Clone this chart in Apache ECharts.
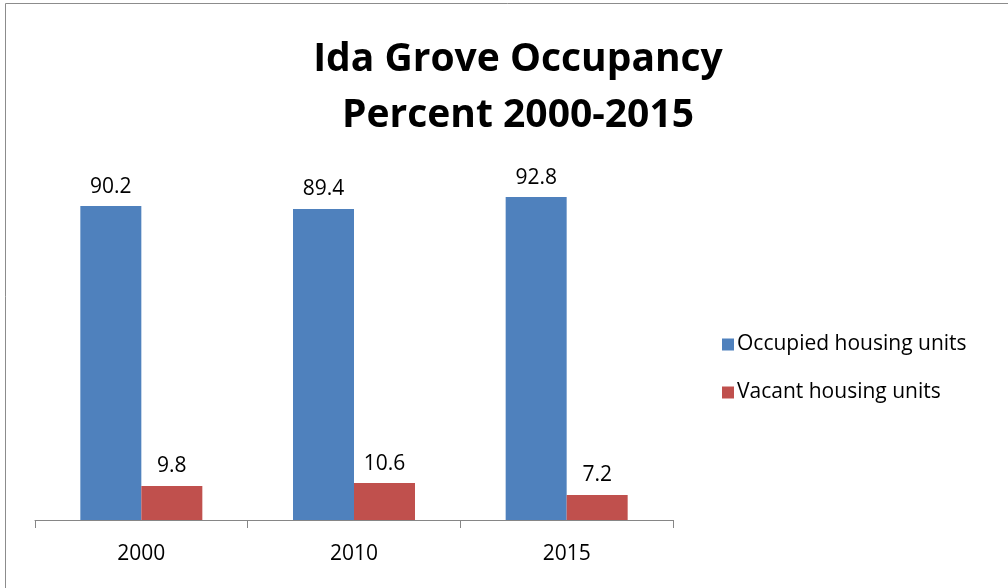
<!DOCTYPE html>
<html>
<head>
<meta charset="utf-8">
<script src="https://cdn.jsdelivr.net/npm/echarts@6/dist/echarts.min.js"></script>
<style>
  html, body { margin: 0; padding: 0; background: #fff; }
  #chart { width: 1008px; height: 588px; }
</style>
</head>
<body>
<div id="chart"></div>
<script>
const years = ['2000', '2010', '2015']
const occupied = [90.2, 89.4, 92.8]
const vacant = [9.8, 10.6, 7.2]

const fontName = 'Open Sans'

const chart = echarts.init(document.getElementById('chart'), null, { renderer: 'canvas' })
chart.setOption({
  backgroundColor: '#ffffff',
  animation: false,
  graphic: [{
    type: 'rect',
    shape: { x: 5.5, y: 3.5, width: 1010, height: 600 },
    style: { fill: 'none', stroke: '#8c8c8c', lineWidth: 1 }
  }],
  title: {
    text: 'Ida Grove Occupancy\nPercent 2000-2015',
    left: 513,
    top: 27,
    textAlign: 'center',
    textStyle: {
      fontFamily: fontName,
      fontWeight: 'bold',
      fontSize: 39,
      lineHeight: 56,
      color: '#000'
    }
  },
  legend: {
    orient: 'vertical',
    left: 717,
    top: 329,
    itemWidth: 12,
    itemHeight: 12,
    itemGap: 27,
    icon: 'rect',
    textStyle: { fontFamily: fontName, fontSize: 21, color: '#000', padding: [0, 0, 0, -2] }
  },
  grid: { left: 35, right: 335, top: 172, bottom: 68 },
  xAxis: {
    type: 'category',
    data: years,
    axisLine: { lineStyle: { color: '#868686', width: 1 } },
    axisTick: { show: true, length: 8, lineStyle: { color: '#868686' } },
    axisLabel: { fontFamily: fontName, fontSize: 21, color: '#000', margin: 24 }
  },
  yAxis: {
    type: 'value',
    min: 0,
    max: 100,
    show: false,
    splitLine: { show: false }
  },
  series: [
    {
      name: 'Occupied housing units',
      type: 'bar',
      data: occupied,
      barWidth: 61,
      barGap: '0%',
      itemStyle: { color: '#4f81bd' },
      label: {
        show: true,
        position: 'top',
        distance: 9,
        fontFamily: fontName,
        fontSize: 21,
        color: '#000'
      }
    },
    {
      name: 'Vacant housing units',
      type: 'bar',
      data: vacant,
      barWidth: 61,
      barGap: '0%',
      itemStyle: { color: '#c0504d' },
      label: {
        show: true,
        position: 'top',
        distance: 9,
        fontFamily: fontName,
        fontSize: 21,
        color: '#000'
      }
    }
  ]
})
</script>
</body>
</html>
